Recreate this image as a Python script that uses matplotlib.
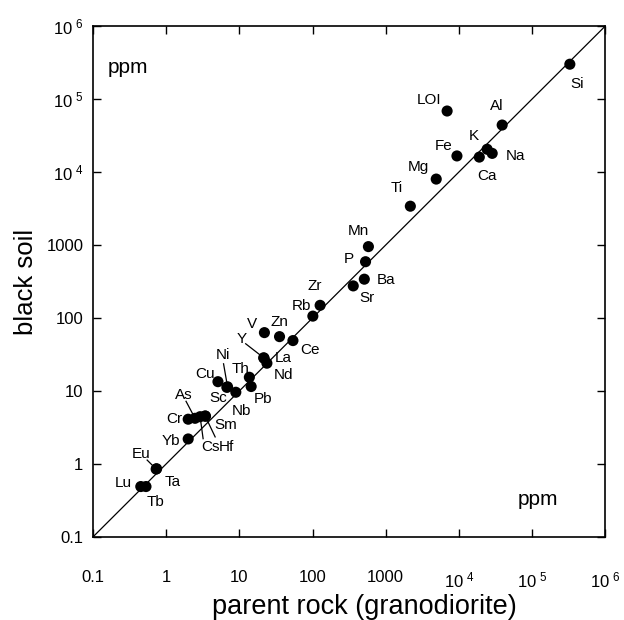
import numpy as np
import matplotlib
matplotlib.use('Agg')
import matplotlib.pyplot as plt

plt.rcParams['font.family'] = ['Liberation Sans', 'DejaVu Sans']
plt.rcParams['mathtext.fontset'] = 'custom'
plt.rcParams['mathtext.rm'] = 'Liberation Sans'

# concentrations in ppm: parent rock (granodiorite) vs black soil
elements = ['Si', 'Al', 'Na', 'K', 'Ca', 'Fe', 'LOI', 'Mg', 'Ti', 'Mn', 'P', 'Ba', 'Sr',
            'Zr', 'Rb', 'Ce', 'Zn', 'V', 'La', 'Nd', 'Y', 'Th', 'Pb', 'Nb', 'Sc', 'Ni',
            'Cu', 'Hf', 'Sm', 'Cs', 'As', 'Cr', 'Yb', 'Eu', 'Ta', 'Tb', 'Lu']
rock = [3.28e5, 3.9e4, 2.85e4, 2.43e4, 1.9e4, 9400, 6900, 4900, 2170, 580, 530, 510, 360,
        127, 101, 54, 35.4, 22, 21.8, 23.8, 21.5, 13.7, 14.5, 8.95, 6.75, 6.9,
        5.1, 3.41, 3.45, 2.91, 2.48, 2.0, 2.0, 0.73, 0.74, 0.53, 0.45]
soil = [3.0e5, 4.4e4, 1.8e4, 2.05e4, 1.6e4, 1.66e4, 6.85e4, 8000, 3400, 950, 590, 340, 275,
        149, 106, 49, 55.5, 63, 28, 24, 28.5, 15.4, 11.5, 9.6, 11.2, 11.4,
        13.4, 4.55, 4.5, 4.44, 4.22, 4.1, 2.2, 0.85, 0.86, 0.49, 0.49]

tick_vals = [0.1, 1, 10, 100, 1000, 1e4, 1e5, 1e6]
tick_labels = ['0.1', '1', '10', '100', '1000',
               r'$\mathregular{10^{\ 4}}$', r'$\mathregular{10^{\ 5}}$', r'$\mathregular{10^{\ 6}}$']

# label offsets in pixels (dx, dy)
offsets = {'Si': (7, -20), 'Al': (-5, 19), 'Na': (23, -3), 'K': (-13, 13), 'Ca': (8, -19),
           'Fe': (-13, 10), 'LOI': (-18, 11), 'Mg': (-18, 12), 'Ti': (-14, 18),
           'Mn': (-10, 16), 'P': (-17, 3), 'Ba': (22, -1), 'Sr': (14, -12),
           'Zr': (-5, 19), 'Rb': (-11, 10), 'Ce': (17, -9), 'Zn': (0, 15), 'V': (-12, 9),
           'La': (19, 0), 'Nd': (17, -12), 'Y': (-22, 19), 'Th': (-9, 8), 'Pb': (12, -12),
           'Nb': (6, -19), 'Sc': (-9, -11), 'Ni': (-5, 32), 'Cu': (-13, 8),
           'Hf': (21, -31), 'Sm': (20, -9), 'Cs': (10, -30), 'As': (-11, 23),
           'Cr': (-14, 0), 'Yb': (-17, -2), 'Eu': (-15, 15), 'Ta': (16, -13),
           'Tb': (10, -15), 'Lu': (-17, 4)}
# leader lines: start of the line, pixels from the point
leaders = {'Y': (-18, 14), 'Ni': (-4, 23), 'Hf': (10, -21), 'Cs': (3, -22),
           'As': (-9, 17), 'Eu': (-9, 9)}

fig = plt.figure(figsize=(6.24, 6.2), dpi=100)
ax = fig.add_axes([0.149, 0.134, 0.821, 0.824])
px_dec_x = 624 * 0.821 / 7
px_dec_y = 620 * 0.824 / 7

ax.plot([0.1, 1e6], [0.1, 1e6], 'k-', lw=0.9, zorder=1)
ax.scatter(rock, soil, s=64, c='k', edgecolors='none', zorder=3)

for el, x, y in zip(elements, rock, soil):
    dx, dy = offsets[el]
    ax.annotate(el, (x, y), xytext=(dx, dy), textcoords='offset pixels',
                ha='center', va='center', fontsize=11)
    if el in leaders:
        sx, sy = leaders[el]
        ax.plot([x * 10 ** (sx / px_dec_x), x], [y * 10 ** (sy / px_dec_y), y],
                'k-', lw=0.9, zorder=2)

ax.text(0.068, 0.918, 'ppm', transform=ax.transAxes, ha='center', va='center', fontsize=15)
ax.text(0.869, 0.074, 'ppm', transform=ax.transAxes, ha='center', va='center', fontsize=15)

ax.set_xscale('log')
ax.set_yscale('log')
ax.set_xlim(0.1, 1e6)
ax.set_ylim(0.1, 1e6)
ax.set_xticks(tick_vals)
ax.set_xticklabels(tick_labels)
ax.set_yticks(tick_vals)
ax.set_yticklabels(tick_labels)
ax.minorticks_off()
ax.tick_params(which='major', direction='in', length=6, width=1, top=True, right=True,
               labelsize=12)
ax.tick_params(axis='x', pad=24)
ax.tick_params(axis='y', pad=7)
for sp in ax.spines.values():
    sp.set_linewidth(1.2)

ax.set_xlabel('parent rock (granodiorite)', fontsize=19.5)
ax.xaxis.set_label_coords(0.529, -0.111)
ax.set_ylabel('black soil', fontsize=18.5)
ax.yaxis.set_label_coords(-0.107, 0.5)

plt.savefig('out.png', dpi=100)
